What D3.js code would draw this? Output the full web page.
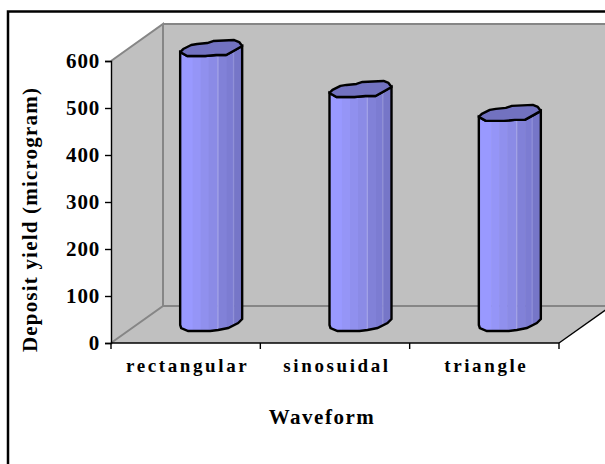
<!DOCTYPE html>
<html><head><meta charset="utf-8">
<script src="https://cdn.jsdelivr.net/npm/d3@7"></script>
<style>html,body{margin:0;padding:0;background:#fff}svg{display:block}text{font-family:"Liberation Serif",serif;font-weight:bold;fill:#000}</style>
</head><body><svg id="c" width="605" height="464"></svg>
<script>
const categories=["rectangular","sinosuidal","triangle"];
const values=[585,498,447];
const yTicks=[0,100,200,300,400,500,600];
const axisTitleX="Waveform";
const axisTitleY="Deposit yield (microgram)";
const svg=d3.select("#c");
const x0=111,x1=559,y0=343,y600=61,dx=52,dy=-37;
const y=d3.scaleLinear().domain([0,600]).range([y0,y600]);
const x=d3.scaleBand().domain(categories).range([x0,x1]);
const line=d3.line();
svg.append("rect").attr("x",8).attr("y",11.5).attr("width",610).attr("height",470).attr("fill","#fff").attr("stroke","#000").attr("stroke-width",2.5);
svg.append("path").attr("d",line([[x0,y0],[x0+dx,y0+dy],[x1+dx,y0+dy],[x1,y0]])+"Z").attr("fill","#c0c0c0");
svg.append("path").attr("d",line([[x0,y0],[x0,y600],[x0+dx,y600+dy],[x0+dx,y0+dy]])+"Z").attr("fill","#c0c0c0");
svg.append("rect").attr("x",x0+dx).attr("y",y600+dy).attr("width",500).attr("height",y0-y600).attr("fill","#c0c0c0");
const grey="#868686";
svg.append("path").attr("fill","none").attr("stroke",grey).attr("stroke-width",2)
 .attr("d",line([[x0,y600],[x0+dx,y600+dy],[x0+dx,y0+dy],[x0,y0]]));
svg.append("path").attr("fill","none").attr("stroke",grey).attr("stroke-width",2).attr("d",line([[x0+dx,y600+dy],[610,y600+dy]]));
svg.append("path").attr("fill","none").attr("stroke",grey).attr("stroke-width",2).attr("d",line([[x0+dx,y0+dy],[610,y0+dy]]));
const ax=svg.append("g").attr("transform",`translate(${x0},0)`).call(d3.axisLeft(y).tickValues(yTicks).tickSize(6).tickPadding(5));
ax.selectAll("path,line").attr("stroke","#000").attr("stroke-width",1.4);
ax.selectAll("text").attr("font-size",21).style("letter-spacing","0.8px").attr("font-family","Liberation Serif");
const bx=svg.append("g").attr("transform",`translate(2,${y0})`).call(d3.axisBottom(x).tickValues(categories).tickSize(0).tickPadding(16));
bx.select(".domain").remove();
bx.selectAll("text").attr("font-size",19).style("letter-spacing","2.6px").attr("font-family","Liberation Serif");
svg.append("g").selectAll("line").data(d3.range(categories.length+1)).join("line")
 .attr("x1",i=>x0+i*x.bandwidth()).attr("x2",i=>x0+i*x.bandwidth()).attr("y1",y0).attr("y2",y0+6).attr("stroke","#000").attr("stroke-width",1.4);
svg.append("line").attr("x1",x0).attr("x2",x1).attr("y1",y0).attr("y2",y0).attr("stroke","#000").attr("stroke-width",1.6);
svg.append("line").attr("x1",x1).attr("x2",x1+dx).attr("y1",y0).attr("y2",y0+dy).attr("stroke","#000").attr("stroke-width",1.4);
const bw=62;
const strips=[[0,.2,"#9999ff"],[.2,.33,"#9595f7"],[.33,.46,"#9090ee"],[.46,.6,"#8b8be6"],[.6,.62,"#a3a3e8"],[.62,.75,"#8181d8"],[.75,.85,"#7c7cd2"],[.85,.87,"#9090d8"],[.87,1,"#7676c8"]];
const g=svg.append("g");
categories.forEach((c,i)=>{
 const cx=x(c)+x.bandwidth()/2+25.5;
 const l=cx-bw/2,r=cx+bw/2;
 const base=y0-12,top=y0-12-(y(0)-y(values[i]));
 const frontTop=[[l,top-4],[l+7,top],[l+25,top],[l+36,top-1],[l+46,top-1],[r-7,top-6],[r,top-10]];
 const frontBot=[[r,base-12],[r-4,base-8],[r-14,base-3],[r-24,base-1],[r-32,base],[l+20,base],[l+8,base],[l+1,base-3],[l,base-6]];
 const body=line([...frontTop,...frontBot])+"Z";
 const id="clip"+i;
 svg.append("clipPath").attr("id",id).append("path").attr("d",body);
 const grp=g.append("g");
 grp.append("g").attr("clip-path",`url(#${id})`).selectAll("rect").data(strips).join("rect")
  .attr("x",d=>l+d[0]*bw).attr("width",d=>(d[1]-d[0])*bw+.5).attr("y",top-20).attr("height",base-top+30).attr("fill",d=>d[2]);
 grp.append("path").attr("d",body).attr("fill","none").attr("stroke","#000").attr("stroke-width",2.4);
 const topCap=[[l,top-4],[l+3,top-7],[l+11,top-11],[l+17,top-12],[l+27,top-13],[l+33,top-15],[l+54,top-16],[r-3,top-14],[r,top-10],[r-7,top-6],[l+46,top-1],[l+36,top-1],[l+25,top],[l+7,top]];
 grp.append("path").attr("d",line(topCap)+"Z").attr("fill","#7272c0").attr("stroke","#000").attr("stroke-width",2.4).attr("stroke-linejoin","round");
});
svg.append("text").attr("x",322).attr("y",424).attr("text-anchor","middle").attr("font-size",21).style("letter-spacing","1.5px").text(axisTitleX);
svg.append("text").attr("transform","translate(37,219.5) rotate(-90)").attr("text-anchor","middle").attr("font-size",21).style("letter-spacing","1.2px").text(axisTitleY);
</script></body></html>
